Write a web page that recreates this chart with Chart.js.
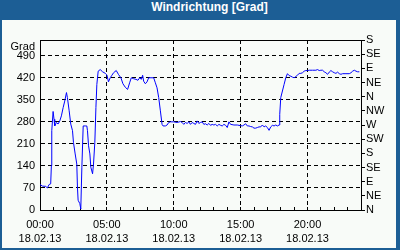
<!DOCTYPE html>
<html>
<head>
<meta charset="utf-8">
<script src="https://cdn.jsdelivr.net/npm/chart.js@4/dist/chart.umd.min.js"></script>
<style>
    body { margin: 0; width: 400px; height: 250px; background: #1c5e95; overflow: hidden; position: relative; }
    #titel { position: absolute; left: 0; top: 0; width: 400px; height: 20px; line-height: 20px; padding-left: 19px; box-sizing: border-box;
        text-align: center; color: #fff; font: bold 12px 'Liberation Sans', Arial, sans-serif; }
    #box { position: absolute; left: 2px; top: 20px; width: 394px; height: 228px; background: #f8fbf8; }
</style>
</head>
<body>
<div id="titel">Windrichtung [Grad]</div>
<div id="box"><canvas id="myChart"></canvas></div>
<script>
const stunden = [0, 0.18, 0.43, 0.55, 0.68, 0.8, 0.85, 0.88, 0.98, 1.05, 1.1, 1.23, 1.35, 1.48, 1.6, 1.73, 1.85, 1.98,
    2.05, 2.18, 2.3, 2.43, 2.5, 2.63, 2.75, 2.8, 2.85, 2.98, 3.05, 3.13, 3.23, 3.38, 3.5, 3.55, 3.63, 3.73, 3.8, 3.93,
    4.0, 4.1, 4.18, 4.25, 4.35, 4.5, 4.68, 4.88, 5.0, 5.12, 5.25, 5.375, 5.5, 5.7, 5.875, 6.05, 6.2, 6.375, 6.55, 6.7,
    6.825, 7.0, 7.175, 7.325, 7.45, 7.575, 7.675, 7.75, 7.875, 8.0, 8.125, 8.3, 8.5, 8.625, 8.75, 8.875, 9.0, 9.125,
    9.2, 9.375, 9.5, 9.625, 9.75, 10.0, 10.25, 10.5, 10.625, 10.75, 10.875, 11.0, 11.125, 11.25, 11.375, 11.5, 11.625,
    11.75, 11.875, 12.0, 12.125, 12.25, 12.375, 12.5, 12.625, 12.75, 12.875, 13.0, 13.125, 13.25, 13.375, 13.5, 13.625,
    13.75, 13.875, 14.0, 14.125, 14.25, 14.5, 14.75, 15.0, 15.125, 15.25, 15.375, 15.5, 15.625, 15.75, 15.875, 16.0,
    16.125, 16.25, 16.375, 16.5, 16.625, 16.75, 16.875, 17.0, 17.125, 17.25, 17.375, 17.5, 17.625, 17.75, 17.875, 17.925,
    18.0, 18.125, 18.25, 18.375, 18.5, 18.625, 18.75, 18.875, 19.0, 19.125, 19.25, 19.375, 19.5, 19.625, 19.75, 19.875,
    20.0, 20.125, 20.375, 20.625, 20.75, 20.875, 21.0, 21.125, 21.25, 21.375, 21.5, 21.625, 21.75, 21.875, 22.0, 22.125,
    22.25, 22.375, 22.5, 22.625, 22.875, 23.125, 23.25, 23.375, 23.5, 23.625, 23.75, 23.875];
const grad = [81, 76, 75, 70, 81, 83, 141, 252, 313, 288, 267, 278, 273, 283, 299, 325, 346, 373,
    357, 315, 273, 252, 215, 178, 146, 73, 31, 20, 3, 136, 267, 267, 267, 252, 204, 178, 136, 115,
    146, 215, 325, 399, 441, 446, 439, 434, 429, 407, 420, 428, 436, 443, 430, 420, 401, 390, 383, 404,
    420, 417, 415, 412, 420, 415, 428, 409, 401, 407, 420, 420, 420, 404, 388, 357, 315, 272,
    267, 267, 270, 278, 280, 280, 278, 281, 278, 272, 278, 275, 280, 272, 278, 275, 272,
    283, 275, 278, 280, 272, 274, 270, 275, 269, 272, 270, 272, 267, 272, 269, 267,
    272, 269, 262, 280, 272, 270, 270, 268, 267, 270, 274, 267, 267, 265, 264, 260,
    260, 262, 264, 264, 270, 264, 267, 262, 253, 264, 269, 267, 270, 267, 270, 304,
    357, 378, 399, 420, 433, 427, 425, 422, 420, 424, 428, 434, 434, 436, 441, 443,
    443, 444, 444, 444, 446, 443, 444, 444, 439, 436, 431, 438, 443, 439, 436, 434,
    438, 433, 431, 433, 433, 433, 436, 441, 444, 441, 439, 439];

const gradTicks = [0, 70, 140, 210, 280, 350, 420, 490];
const richtungTicks = [0, 45, 90, 135, 180, 225, 270, 315, 360, 405, 450, 495, 540];
const richtungen = ['N', 'NE', 'E', 'SE', 'S', 'SW', 'W', 'NW', 'N', 'NE', 'E', 'SE', 'S'];
const zeitLabels = ['00:00', '05:00', '10:00', '15:00', '20:00'];
const datum = '18.02.13';

Chart.defaults.font.family = "'Liberation Sans', Arial, sans-serif";
Chart.defaults.font.size = 11;
Chart.defaults.color = '#000';

// obere Rahmenlinie und "Grad" ueber der linken Achse
const rahmen = {
    id: 'rahmen',
    afterDraw(chart) {
        const c = chart.ctx;
        const a = chart.chartArea;
        c.save();
        c.strokeStyle = '#000';
        c.lineWidth = 1;
        c.beginPath();
        c.moveTo(a.left, a.top + 0.5);
        c.lineTo(a.right, a.top + 0.5);
        c.stroke();
        c.fillStyle = '#000';
        c.font = "11px 'Liberation Sans', Arial, sans-serif";
        c.textAlign = 'right';
        c.fillText('Grad', chart.scales.y.right - 5, a.top + 10);
        c.restore();
    }
};

const ctx = document.getElementById('myChart').getContext('2d');
const myChart = new Chart(ctx, {
    type: 'line',
    data: {
        datasets: [{
            data: stunden.map((h, i) => ({ x: h, y: grad[i] })),
            borderColor: '#0000ff',
            borderWidth: 1,
            pointRadius: 0,
            tension: 0,
            fill: false
        }]
    },
    options: {
        responsive: true,
        maintainAspectRatio: false,
        animation: false,
        layout: { padding: { top: 20, left: 0, right: 0, bottom: 0 } },
        plugins: { legend: { display: false }, tooltip: { enabled: false } },
        scales: {
            x: {
                type: 'linear',
                min: 0,
                max: 24,
                afterFit: s => { s.height = 38; },
                ticks: {
                    stepSize: 1,
                    autoSkip: false,
                    maxRotation: 0,
                    padding: 11,
                    font: { lineHeight: 14 / 11 },
                    callback: v => v % 5 === 0 && v < 24 ? [zeitLabels[v / 5], datum] : ''
                },
                grid: {
                    color: c => c.tick && c.tick.value % 5 === 0 && c.tick.value > 0 && c.tick.value < 24 ? '#000' : 'rgba(0,0,0,0)',
                    tickColor: '#000',
                    tickLength: -3
                },
                border: { color: '#000', dash: [4, 3] }
            },
            y: {
                position: 'left',
                min: 0,
                max: 540,
                afterFit: s => { s.width = 38; },
                afterBuildTicks: s => { s.ticks = gradTicks.map(v => ({ value: v })); },
                ticks: { padding: 5, autoSkip: false },
                grid: { color: '#000', drawTicks: false },
                border: { color: '#000', dash: [4, 3] }
            },
            y2: {
                position: 'right',
                min: 0,
                max: 540,
                afterFit: s => { s.width = 35; },
                afterBuildTicks: s => { s.ticks = richtungTicks.map(v => ({ value: v })); },
                ticks: { padding: 1, autoSkip: false, callback: (v, i) => richtungen[i] },
                grid: { drawOnChartArea: false, tickLength: 4, tickColor: '#000' },
                border: { color: '#000' }
            }
        }
    },
    plugins: [rahmen]
});
</script>
</body>
</html>
